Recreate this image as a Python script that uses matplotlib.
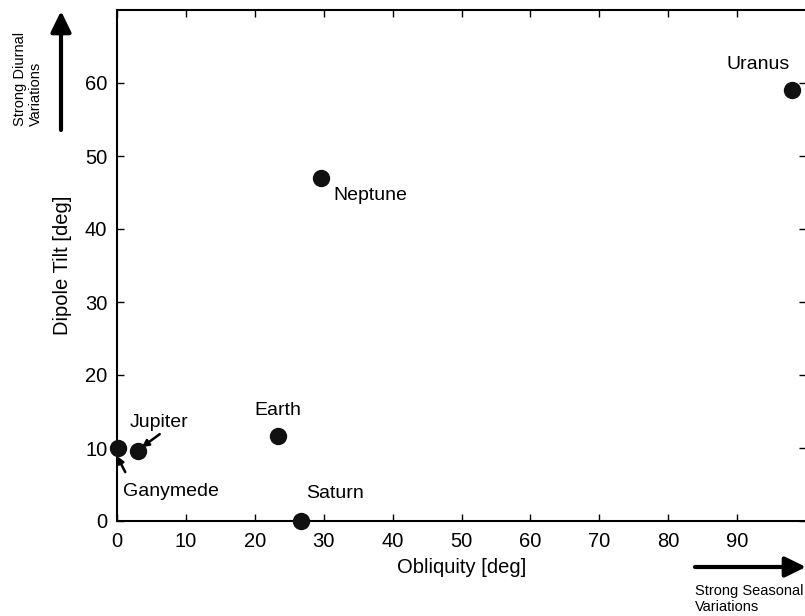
import matplotlib.pyplot as plt
from matplotlib.patches import FancyArrowPatch

plt.rcParams['font.family'] = ['Liberation Sans', 'DejaVu Sans']

bodies = ["Ganymede", "Jupiter", "Earth", "Saturn", "Neptune", "Uranus"]
obliquity = [0.2, 3.1, 23.4, 26.7, 29.6, 97.9]
dipole_tilt = [10.0, 9.6, 11.7, 0.0, 47.0, 59.0]

# label positions (data coords) and optional arrow tails
label_xy = {
    "Ganymede": (7.8, 4.0),
    "Jupiter": (6.1, 13.5),
    "Earth": (23.4, 15.2),
    "Saturn": (31.6, 3.7),
    "Neptune": (36.7, 44.6),
    "Uranus": (93.0, 62.5),
}
arrow_from = {"Ganymede": (1.2, 6.7), "Jupiter": (6.2, 11.9)}
arrow_to = {"Ganymede": (0.0, 8.9), "Jupiter": (3.6, 10.1)}

fig = plt.figure(figsize=(8.05, 6.16), dpi=100)
ax = fig.add_axes([117 / 805, 95 / 616, 689 / 805, 511 / 616])

ax.plot(obliquity, dipole_tilt, 'o', color='#111111', markersize=11.5,
        clip_on=False, zorder=5)

for name in bodies:
    lx, ly = label_xy[name]
    ax.text(lx, ly, name, fontsize=14, ha='center', va='center')
    if name in arrow_from:
        ax.annotate('', xy=arrow_to[name], xytext=arrow_from[name],
                    arrowprops=dict(arrowstyle='-|>', color='black', lw=1.8,
                                    mutation_scale=10, shrinkA=0, shrinkB=0),
                    annotation_clip=False)

ax.set_xlim(0, 100)
ax.set_ylim(0, 70)
ax.set_xticks(range(0, 100, 10))
ax.set_yticks(range(0, 70, 10))
ax.tick_params(direction='in', top=True, right=True, length=5, width=1,
               labelsize=14.5)
ax.tick_params(axis='x', pad=8)
ax.tick_params(axis='y', pad=7)
for s in ax.spines.values():
    s.set_linewidth(1.5)
ax.set_xlabel('Obliquity [deg]', fontsize=14.5, labelpad=5)
ax.set_ylabel('Dipole Tilt [deg]', fontsize=14.5, labelpad=9)

# side arrows
fig.patches.append(FancyArrowPatch(
    (61 / 805, 1 - 130 / 616), (61 / 805, 1 - 11 / 616),
    transform=fig.transFigure, arrowstyle='-|>,head_length=0.45,head_width=0.22',
    mutation_scale=28, lw=3, color='black', shrinkA=0, shrinkB=0))
fig.text(28 / 805, 1 - 126 / 616, 'Strong Diurnal\nVariations', rotation=90,
         fontsize=10.5, ha='center', va='bottom', multialignment='left',
         linespacing=1.2)

fig.patches.append(FancyArrowPatch(
    (695 / 805, 1 - 567 / 616), (806 / 805, 1 - 567 / 616),
    transform=fig.transFigure, arrowstyle='-|>,head_length=0.45,head_width=0.22',
    mutation_scale=28, lw=3, color='black', shrinkA=0, shrinkB=0))
fig.text(695 / 805, 1 - 584 / 616, 'Strong Seasonal\nVariations',
         fontsize=10.5, ha='left', va='top', linespacing=1.15)

fig.savefig('out.png', dpi=100)
